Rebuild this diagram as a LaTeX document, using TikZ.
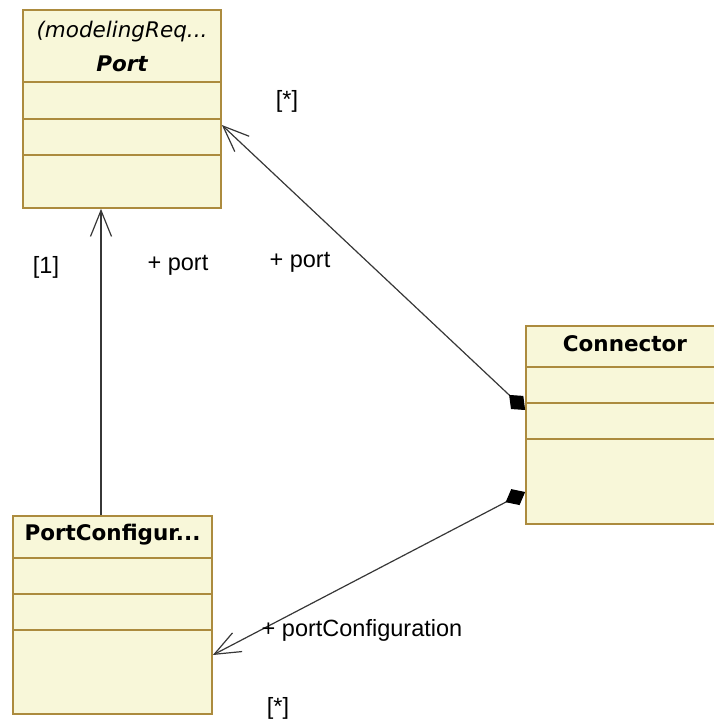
\documentclass[tikz,border=0pt]{standalone}
\usepackage{fontspec}
\setmainfont{Liberation Sans}
\newfontfamily\headfont{DejaVu Sans}
\usetikzlibrary{arrows.meta}

\definecolor{classfill}{RGB}{248,247,217}
\definecolor{classline}{RGB}{172,139,62}
\definecolor{assocline}{RGB}{55,55,55}

\tikzset{
	classbox/.style={shape=rectangle,draw=classline,fill=classfill,line width=1.7pt,inner sep=0pt},
	classsep/.style={draw=classline,line width=1.7pt},
	classhead/.style={font=\headfont\fontsize{21.5}{24}\selectfont\bfseries,inner sep=0pt},
	stereo/.style={font=\headfont\fontsize{21.5}{24}\selectfont\itshape,inner sep=0pt},
	role/.style={font=\fontsize{23.5}{26}\selectfont,inner sep=0pt},
	assoc/.style={draw=assocline,line width=1.2pt},
	navend/.style={-{Straight Barb[length=26pt,width=21pt,line width=1.2pt]}},
	compnav/.style={{Diamond[length=22pt,width=18pt,color=black]}-{Straight Barb[length=26pt,width=21pt,line width=1.2pt]}}
}

\begin{document}
\begin{tikzpicture}[x=1pt,y=-1pt]
	\useasboundingbox (0,0) rectangle (713,720);

	% classes
	\node[classbox,minimum width=198pt,minimum height=198pt] (port) at (122,109) {};
	\node[classbox,minimum width=204pt,minimum height=198pt] (conn) at (628,425) {};
	\node[classbox,minimum width=199pt,minimum height=198pt] (pcfg) at (112.5,615) {};

	% compartments
	\foreach \d in {73,110,146}
		\path[classsep] ([yshift=-\d pt]port.north west) -- ([yshift=-\d pt]port.north east);
	\foreach \d in {42,78,114}
		\path[classsep] ([yshift=-\d pt]conn.north west) -- ([yshift=-\d pt]conn.north east);
	\foreach \d in {43,79,115}
		\path[classsep] ([yshift=-\d pt]pcfg.north west) -- ([yshift=-\d pt]pcfg.north east);

	% names
	\node[stereo] (portst) at (122,32) {(modelingReq...};
	\node[stereo,font=\headfont\fontsize{21.5}{24}\selectfont\bfseries\itshape] (portnm) at (122,64) {Port};
	\node[classhead] (connnm) at (625,344) {Connector};
	\node[classhead] (pcfgnm) at (112.5,535) {PortConfigur...};

	% associations
	\draw[assoc,navend] ([xshift=-11.5pt]pcfg.north) -- ([xshift=-21pt]port.south);
	\draw[assoc,compnav] ([yshift=15pt]conn.west) -- ([yshift=-16pt]port.east);
	\draw[assoc,compnav] ([yshift=-67pt]conn.west) -- ([yshift=-40pt]pcfg.east);

	% role names and multiplicities
	\node[role] (m1) at (46,267) {[1]};
	\node[role] (r1) at (178,265) {+ port};
	\node[role] (m2) at (287,101) {[*]};
	\node[role] (r2) at (300,262) {+ port};
	\node[role] (r3) at (362,630) {+ portConfiguration};
	\node[role] (m3) at (278,708) {[*]};

\end{tikzpicture}
\end{document}
